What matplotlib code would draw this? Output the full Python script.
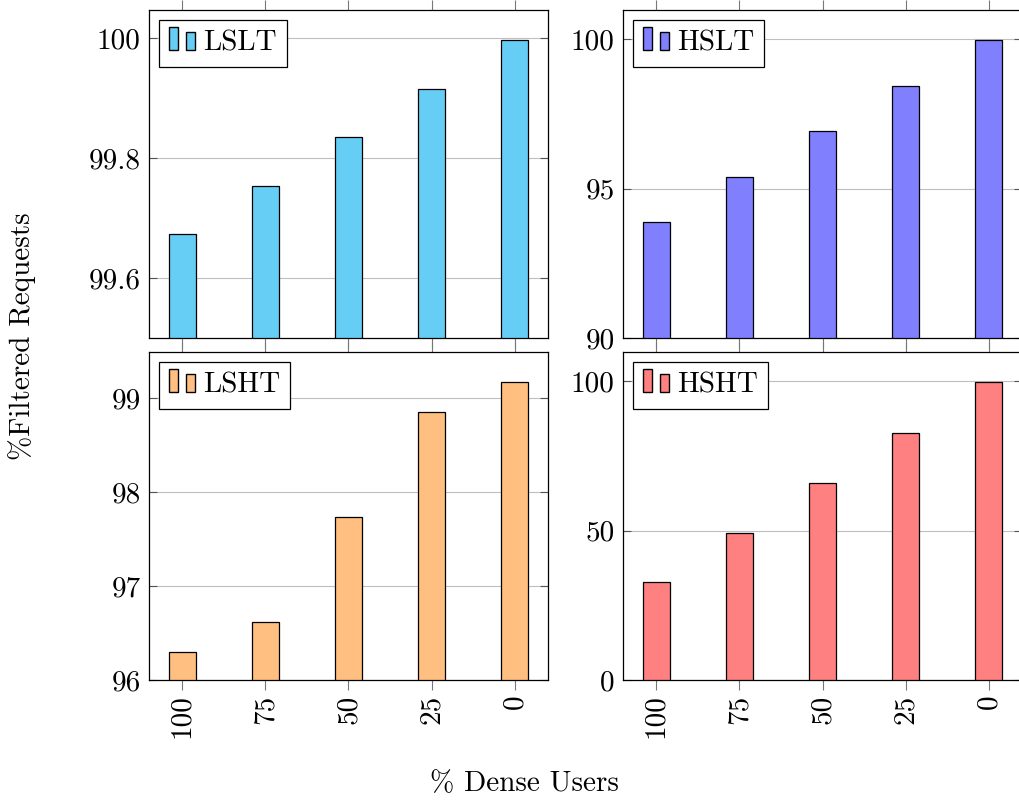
import matplotlib
matplotlib.use("Agg")
import matplotlib.pyplot as plt
from matplotlib.patches import Rectangle
from matplotlib.legend_handler import HandlerBase

plt.rcParams['font.family'] = ['cmr10', 'DejaVu Serif']
plt.rcParams['axes.formatter.use_mathtext'] = True
plt.rcParams['font.size'] = 21

# data
dense_users = ['100', '75', '50', '25', '0']
lslt = [99.674, 99.754, 99.836, 99.916, 99.997]
hslt = [93.87, 95.40, 96.93, 98.43, 99.97]
lsht = [96.30, 96.62, 97.73, 98.85, 99.17]
hsht = [32.7, 49.3, 66.0, 82.7, 99.7]

panels = [
    # name, values, color, ymin, ymax, yticks, yticklabels
    ('LSLT', lslt, '#66CEF5', 99.5, 100.047, [99.6, 99.8, 100], ['99.6', '99.8', '100']),
    ('HSLT', hslt, '#8080FF', 90, 100.97, [90, 95, 100], ['90', '95', '100']),
    ('LSHT', lsht, '#FFBF80', 96, 99.49, [96, 97, 98, 99], ['96', '97', '98', '99']),
    ('HSHT', hsht, '#FF8080', 0, 109.7, [0, 50, 100], ['0', '50', '100']),
]


class BarLegend(HandlerBase):
    # pgfplots style ybar legend: two small bars
    def create_artists(self, legend, orig_handle, xdescent, ydescent,
                       width, height, fontsize, trans):
        fc = orig_handle.get_facecolor()
        w = width * 0.34
        y0 = -ydescent + height * 0.05
        r1 = Rectangle((-xdescent, y0), w, height * 1.1,
                       facecolor=fc, edgecolor='black', lw=1, transform=trans)
        r2 = Rectangle((-xdescent + width * 0.64, y0), w, height * 0.85,
                       facecolor=fc, edgecolor='black', lw=1, transform=trans)
        return [r1, r2]


fig = plt.figure(figsize=(10.2, 8.0), dpi=100)
pos = [
    [149 / 1020, 0.5775, 399 / 1020, 0.41],
    [623 / 1020, 0.5775, 399 / 1020, 0.41],
    [149 / 1020, 0.15, 399 / 1020, 0.41],
    [623 / 1020, 0.15, 399 / 1020, 0.41],
]
x = list(range(len(dense_users)))

for i, (name, vals, col, ymin, ymax, yt, ytl) in enumerate(panels):
    ax = fig.add_axes(pos[i])
    ax.bar(x, [v - ymin for v in vals], bottom=ymin, width=0.32, color=col,
           edgecolor='black', linewidth=0.9, zorder=3, label=name)
    ax.set_xlim(-0.4, 4.4)
    ax.set_ylim(ymin, ymax)
    ax.set_yticks(yt)
    ax.set_yticklabels(ytl)
    ax.set_xticks(x)
    ax.grid(axis='y', color='#bfbfbf', linewidth=0.8, zorder=0)
    ax.tick_params(axis='y', direction='in', left=True, right=True, length=6,
                   color='#555555', pad=6)
    ax.tick_params(axis='x', direction='out', top=True, bottom=True, length=7,
                   color='#777777')
    if i >= 2:
        ax.set_xticklabels(dense_users, rotation=90)
    else:
        ax.set_xticklabels([])
    for s in ax.spines.values():
        s.set_linewidth(0.9)
    h = Rectangle((0, 0), 1, 1, facecolor=col)
    leg = ax.legend([h], [name], handler_map={Rectangle: BarLegend()},
                    loc='upper left', fancybox=False, edgecolor='black',
                    framealpha=1, handlelength=0.9, handletextpad=0.25,
                    borderpad=0.35, borderaxespad=0.35, fontsize=21)
    leg.get_frame().set_linewidth(0.9)

fig.text(0.022, 0.58, '%Filtered Requests', rotation=90, ha='center', va='center')
fig.text(0.514, 0.02, '% Dense Users', ha='center', va='center')

fig.savefig('out.png', dpi=100)
